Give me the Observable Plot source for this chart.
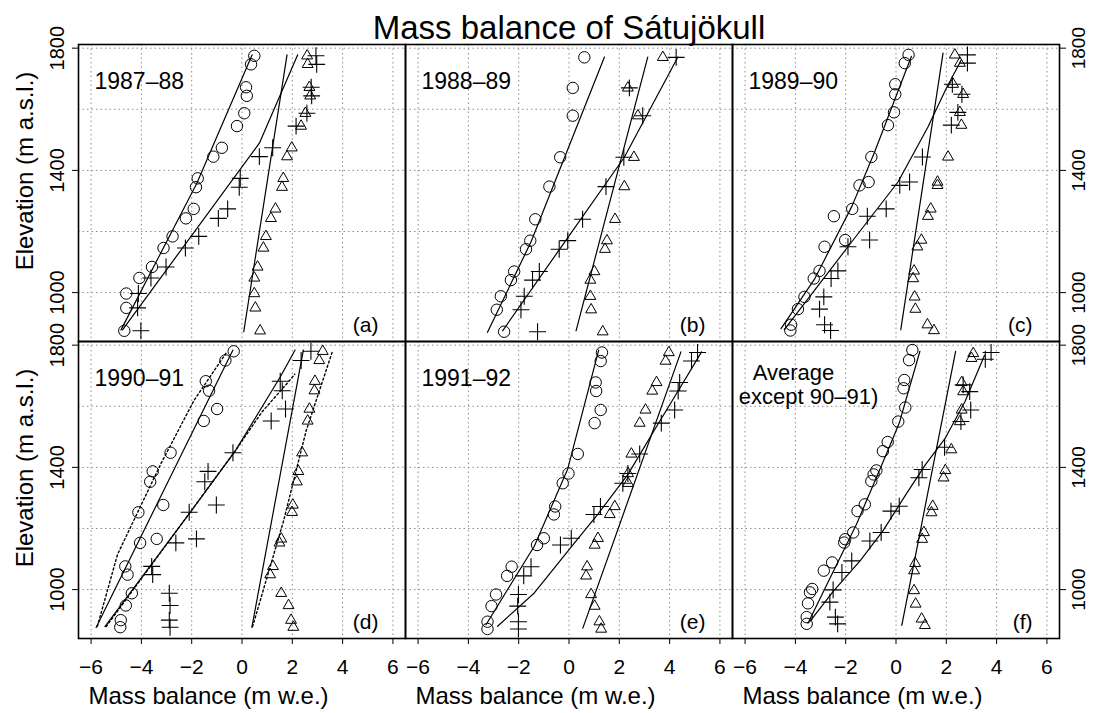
<!DOCTYPE html>
<html><head><meta charset="utf-8">
<script src="https://cdn.jsdelivr.net/npm/d3@7"></script>
<script src="https://cdn.jsdelivr.net/npm/@observablehq/plot@0.6"></script>
<style>body{margin:0;background:#fff;}</style>
</head><body><div id="chart"></div>
<script>
// ---------- data (elevation m a.s.l., mass balance m w.e.) ----------
const periods = ["1987–88","1988–89","1989–90","1990–91","1991–92"];
const averageLines = ["Average","except 90–91)"];
const letters = ["(a)","(b)","(c)","(d)","(e)","(f)"];
const xTicks = [-6,-4,-2,0,2,4,6];
const yTicks = [1000,1400,1800];
const yGrid = [1000,1200,1400,1600,1800];

// (a) 1987-88
const elevA = [1775,1747,1672,1644,1587,1545,1474,1445,1374,1345,1274,1243,1184,1146,1084,1048,997,950,875];
const bsA = [0.49,0.36,0.16,0.19,0.09,-0.20,-0.80,-1.14,-1.76,-1.83,-1.92,-2.23,-2.76,-3.12,-3.58,-4.08,-4.60,-4.60,-4.68];
const bnA = [2.94,2.97,2.75,2.77,2.58,2.15,1.22,0.69,-0.07,-0.11,-0.57,-0.94,-1.72,-2.25,-3.02,-3.62,-4.12,-4.15,-4.02];
const bwA = [2.59,2.61,2.68,2.71,2.52,2.35,1.98,1.79,1.64,1.59,1.33,1.15,0.95,0.85,0.62,0.49,0.49,0.53,0.72];
const fitSA = [[-4.81,878],[-1.80,1357],[0.40,1778]];
const fitNA = [[-4.75,878],[0.69,1489],[2.21,1778]];
const fitWA = [[0.07,872],[1.79,1778]];

// (b) 1988-89
const elevB = [1770,1670,1579,1443,1347,1240,1170,1142,1069,1041,988,944,872];
const bsB = [0.61,0.15,0.15,-0.35,-0.78,-1.34,-1.54,-1.71,-2.18,-2.31,-2.71,-2.87,-2.58];
const bnB = [4.26,2.40,2.93,2.18,1.47,0.54,-0.05,-0.39,-1.18,-1.45,-1.78,-1.91,-1.25];
const bwB = [3.73,2.34,2.74,2.58,2.20,1.83,1.51,1.43,1.01,0.85,0.85,0.88,1.34];
const fitSB = [[-3.24,870],[-1.50,1168],[1.41,1771]];
const fitNB = [[-2.64,875],[-0.39,1140],[2.20,1443],[4.33,1771]];
const fitWB = [[0.28,875],[3.13,1771]];

// (c) 1989-90
const elevC = [1778,1751,1682,1649,1590,1548,1444,1362,1351,1274,1250,1172,1150,1071,1046,986,946,895,876];
const bsC = [0.50,0.35,-0.03,-0.03,-0.08,-0.32,-0.98,-1.09,-1.45,-1.74,-2.47,-2.02,-2.84,-3.04,-3.27,-3.64,-3.90,-4.17,-4.20];
const bnC = [2.84,2.84,2.24,2.62,2.46,2.20,1.05,0.54,0.15,-0.39,-1.14,-1.05,-1.91,-2.31,-2.58,-2.87,-3.04,-2.84,-2.60];
const bwC = [2.34,2.54,2.27,2.67,2.54,2.60,2.07,1.65,1.65,1.38,1.27,1.01,0.85,0.72,0.68,0.74,0.77,1.25,1.51];
const fitSC = [[-4.57,882],[-3.24,1044],[-1.75,1283],[-0.85,1460],[0.61,1773]];
const fitNC = [[-4.44,879],[-1.78,1164],[0.08,1362],[1.27,1542],[2.00,1669],[2.60,1762]];
const fitWC = [[0.19,879],[1.87,1784]];

// (d) 1990-91
const elevD = [1780,1750,1682,1651,1591,1552,1448,1387,1353,1277,1253,1166,1153,1076,1049,988,948,900,877];
const bsD = [-0.33,-0.66,-1.44,-1.31,-0.99,-1.52,-2.84,-3.55,-3.65,-3.13,-4.12,-3.39,-4.05,-4.64,-4.55,-4.38,-4.62,-4.82,-4.84];
const bnD = [2.74,2.35,1.52,1.60,1.73,1.16,-0.36,-1.35,-1.48,-1.02,-2.10,-1.81,-2.63,-3.59,-3.55,-2.89,-2.86,-2.89,-2.86];
const bwD = [3.21,3.07,2.90,2.88,2.68,2.61,2.39,2.24,2.18,2.02,1.99,1.56,1.49,1.23,1.12,1.56,1.85,1.95,2.04];
const fitSD = [[-5.80,876],[-0.36,1784]];
const fitND = [[-5.45,879],[-2.11,1247],[-0.26,1455],[1.52,1696],[2.11,1784]];
const fitWD = [[0.39,876],[2.44,1784]];
const dotSD = [[-5.75,880],[-4.95,1115],[-3.23,1411],[-1.91,1619],[-0.60,1778]];
const dotND = [[-5.40,879],[-0.26,1455],[0.79,1581],[1.78,1674],[2.10,1705]];
const dotWD = [[0.42,879],[1.65,1224],[2.55,1520],[3.60,1781]];

// (e) 1991-92
const elevE = [1776,1748,1678,1650,1588,1545,1444,1380,1348,1272,1246,1168,1146,1075,1045,984,946,895,871];
const bsE = [1.31,1.26,1.06,1.08,1.26,1.02,0.35,-0.02,-0.25,-0.55,-0.60,-1.00,-1.27,-2.28,-2.46,-2.90,-3.08,-3.24,-3.24];
const bnE = [5.11,4.87,4.40,4.34,4.20,3.67,2.81,2.34,2.14,1.25,0.99,0.09,-0.34,-1.51,-1.80,-2.01,-2.04,-2.01,-2.01];
const bwE = [3.97,3.84,3.48,3.31,3.04,2.81,2.48,2.35,2.35,1.82,1.62,1.15,1.02,0.72,0.68,0.88,1.02,1.21,1.28];
const fitSE = [[-3.30,885],[-1.38,1142],[-0.05,1395],[1.18,1784]];
const fitNE = [[-2.84,880],[-1.38,989],[0.22,1153],[1.15,1247],[2.35,1378],[3.54,1542],[4.47,1668],[5.27,1778]];
const fitWE = [[0.55,874],[4.45,1778]];

// (f) average except 1990-91
const elevFs = [1784,1751,1686,1659,1596,1550,1483,1453,1390,1377,1355,1279,1257,1187,1165,1154,1089,1062,1002,991,955,910,888];
const bsF = [0.65,0.52,0.33,0.30,0.37,0.09,-0.33,-0.52,-0.78,-0.89,-0.98,-1.24,-1.53,-1.70,-2.02,-2.06,-2.54,-2.87,-3.33,-3.42,-3.50,-3.55,-3.55];
const elevFn = [1776,1754,1670,1648,1588,1550,1466,1393,1366,1273,1257,1187,1159,1094,1056,999,959,910,888];
const bnF = [3.78,3.55,2.67,2.93,2.97,2.58,1.93,1.04,0.91,0.13,-0.20,-0.59,-1.04,-1.76,-2.15,-2.50,-2.63,-2.41,-2.32];
const elevFw = [1773,1757,1678,1648,1588,1550,1458,1390,1366,1273,1252,1187,1165,1086,1062,997,953,904,883];
const bwF = [3.07,3.00,2.61,2.67,2.61,2.54,2.20,1.96,1.89,1.46,1.41,1.11,1.04,0.76,0.72,0.72,0.78,1.02,1.15];
const fitSF = [[-3.50,890],[-2.48,1062],[-1.57,1214],[-0.39,1442],[0.13,1545],[0.95,1780]];
const fitNF = [[-3.39,899],[-2.48,996],[-1.43,1094],[-0.52,1192],[0.39,1311],[1.17,1409],[1.96,1496],[2.74,1615],[3.52,1767]];
const fitWF = [[0.23,883],[2.37,1780]];

// ---------- assemble ----------
const panels = [
  {eS:elevA,s:bsA,eN:elevA,n:bnA,eW:elevA,w:bwA,fits:[fitSA,fitNA,fitWA],dots:[]},
  {eS:elevB,s:bsB,eN:elevB,n:bnB,eW:elevB,w:bwB,fits:[fitSB,fitNB,fitWB],dots:[]},
  {eS:elevC,s:bsC,eN:elevC,n:bnC,eW:elevC,w:bwC,fits:[fitSC,fitNC,fitWC],dots:[]},
  {eS:elevD,s:bsD,eN:elevD,n:bnD,eW:elevD,w:bwD,fits:[fitSD,fitND,fitWD],dots:[dotSD,dotND,dotWD]},
  {eS:elevE,s:bsE,eN:elevE,n:bnE,eW:elevE,w:bwE,fits:[fitSE,fitNE,fitWE],dots:[]},
  {eS:elevFs,s:bsF,eN:elevFn,n:bnF,eW:elevFw,w:bwF,fits:[fitSF,fitNF,fitWF],dots:[]}
];
const circles=[], pluses=[], tris=[], solid=[], dotted=[];
panels.forEach((p,i)=>{
  const col=i%3, row=Math.floor(i/3);
  p.s.forEach((v,j)=>circles.push({col,row,x:v,y:p.eS[j]}));
  p.n.forEach((v,j)=>pluses.push({col,row,x:v,y:p.eN[j]}));
  p.w.forEach((v,j)=>tris.push({col,row,x:v,y:p.eW[j]}));
  p.fits.forEach((f,k)=>f.forEach(([x,y])=>solid.push({col,row,key:i+"-"+k,x,y})));
  p.dots.forEach((f,k)=>f.forEach(([x,y])=>dotted.push({col,row,key:i+"-"+k,x,y})));
});
const periodLabels = periods.map((t,i)=>({col:i%3,row:Math.floor(i/3),t}));
const letterLabels = letters.map((t,i)=>({col:i%3,row:Math.floor(i/3),t}));
const fmtX = d => d < 0 ? "\u2212" + Math.abs(d) : String(d);
const fmtY = d => String(d);
const grey = {stroke:"#8c8c8c", strokeOpacity:1, strokeWidth:1, strokeDasharray:"1.5,3"};
const FF = "'Liberation Sans', Arial, Helvetica, sans-serif";

const chart = Plot.plot({
  width:1093, height:713,
  marginLeft:77, marginRight:33, marginTop:43, marginBottom:75,
  style:{fontFamily:FF, fontSize:"20px", background:"white", color:"black"},
  x:{domain:[-6.5,6.5]},
  y:{domain:[840,1812]},
  fx:{domain:[0,1,2], padding:0, axis:null},
  fy:{domain:[0,1], padding:0, axis:null},
  marks:[
    Plot.gridX(xTicks, grey),
    Plot.gridY(yGrid, grey),
    Plot.frame({stroke:"black", strokeWidth:1.6}),
    Plot.axisX(xTicks, {anchor:"bottom", tickSize:6, tickPadding:15, tickFormat:fmtX, fontSize:21, label:null}),
    Plot.axisY(yTicks, {anchor:"left", tickSize:6, tickPadding:9, tickRotate:-90, tickFormat:fmtY, fontSize:20, label:null}),
    Plot.axisY(yTicks, {anchor:"right", tickSize:6, tickPadding:6, tickRotate:-90, lineAnchor:"top", tickFormat:fmtY, fontSize:19, label:null}),
    Plot.line(solid, {x:"x", y:"y", z:"key", fx:"col", fy:"row", stroke:"black", strokeWidth:1.2}),
    Plot.line(dotted, {x:"x", y:"y", z:"key", fx:"col", fy:"row", stroke:"black", strokeWidth:1.4, strokeDasharray:"2,2.5"}),
    Plot.dot(circles, {x:"x", y:"y", fx:"col", fy:"row", r:5.7, stroke:"black", strokeWidth:1, fill:"none"}),
    Plot.dot(tris, {x:"x", y:"y", fx:"col", fy:"row", symbol:"triangle2", r:5.2, stroke:"black", strokeWidth:1}),
    Plot.dot(pluses, {x:"x", y:"y", fx:"col", fy:"row", symbol:"plus", r:5.5, stroke:"black", strokeWidth:1.1}),
    Plot.text(periodLabels, {fx:"col", fy:"row", text:"t", frameAnchor:"top-left", textAnchor:"start", lineAnchor:"bottom", dx:16, dy:44, fontSize:23}),
    Plot.text([{col:2,row:1}], {fx:"col", fy:"row", text:()=>averageLines[0], frameAnchor:"top-left", textAnchor:"middle", lineAnchor:"bottom", dx:61, dy:38, fontSize:22}),
    Plot.text([{col:2,row:1}], {fx:"col", fy:"row", text:()=>averageLines[1], frameAnchor:"top-left", textAnchor:"middle", lineAnchor:"bottom", dx:76, dy:62, fontSize:22}),
    Plot.text(letterLabels, {fx:"col", fy:"row", text:"t", frameAnchor:"bottom-right", textAnchor:"end", lineAnchor:"bottom", dx:-27, dy:-10, fontSize:21}),
    Plot.text([{col:1,row:0}], {fx:"col", fy:"row", text:()=>"Mass balance of Sátujökull", frameAnchor:"top", textAnchor:"middle", lineAnchor:"bottom", dy:-6, fontSize:33}),
    Plot.text([0,1,2].map(c=>({col:c,row:1})), {fx:"col", fy:"row", text:()=>"Mass balance (m w.e.)", frameAnchor:"bottom-left", textAnchor:"start", lineAnchor:"bottom", dx:10, dy:65, fontSize:24}),
    Plot.text([0,1].map(r=>({col:0,row:r})), {fx:"col", fy:"row", text:()=>"Elevation (m a.s.l.)", frameAnchor:"left", textAnchor:"middle", lineAnchor:"bottom", rotate:-90, dx:-46, dy:-22, fontSize:24})
  ]
});
document.getElementById("chart").appendChild(chart);
</script>
</body></html>
